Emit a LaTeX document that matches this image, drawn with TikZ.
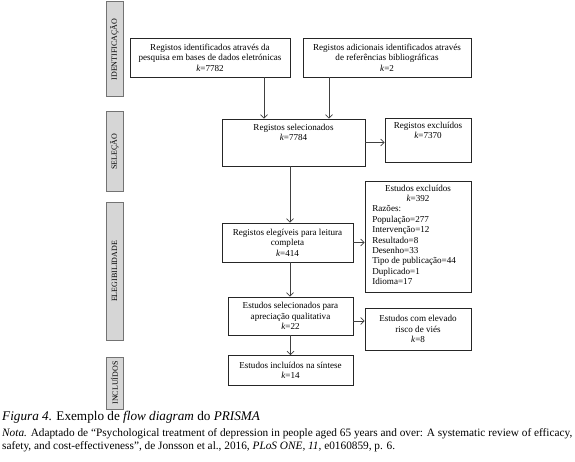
\documentclass[tikz,border=0pt]{standalone}
\usepackage{fontspec}
\setmainfont{Liberation Serif}
\usetikzlibrary{arrows.meta,positioning}
\begin{document}
\begin{tikzpicture}[x=1pt,y=-1pt,
  box/.style={draw=black!85,line width=0.8pt,rectangle,inner sep=2pt,align=center,font=\fontsize{9.1}{10.4}\selectfont},
  boxtext/.style={inner sep=0pt,align=center,font=\fontsize{9.1}{10.4}\selectfont},
  phase/.style={draw=black!55,fill=black!16,line width=1pt,rectangle,inner sep=0pt,minimum width=17pt},
  phasetext/.style={rotate=90,inner sep=0pt,font=\fontsize{8}{9}\selectfont},
  arr/.style={draw=black!75,line width=0.7pt,-{Straight Barb[length=3.5pt,width=7pt]}},
  lin/.style={draw=black!75,line width=0.7pt}]
\useasboundingbox (0,0) rectangle (575,462);
% phase bars
\node[phase,minimum height=95pt] (pid) at (114.5,49.5) {};
\node[phasetext] (tid) at (pid.center) {IDENTIFICAÇÃO};
\node[phase,minimum height=80pt] (psel) at (114.5,152) {};
\node[phasetext] (tsel) at (psel.center) {SELEÇÃO};
\node[phase,minimum height=137pt] (peleg) at (114.5,271.5) {};
\node[phasetext] (teleg) at (peleg.center) {ELEGIBILIDADE};
\node[phase,minimum height=52pt] (pinc) at (114.5,383) {};
\node[phasetext] (tinc) at (pinc.center) {INCLUÍDOS};
% boxes
\node[box,minimum width=160pt,minimum height=39pt] (b1) at (210,57.5) {Registos identificados através da\\pesquisa em bases de dados eletrónicas\\\textit{k}=7782};
\node[box,minimum width=168pt,minimum height=39pt] (b2) at (387,57.5) {Registos adicionais identificados através\\de referências bibliográficas\\\textit{k}=2};
\node[box,minimum width=143pt,minimum height=47pt] (sel) at (293.5,142.5) {};
\node[boxtext,anchor=north] (selt) at ([yshift=-5pt]sel.north) {Registos selecionados\\\textit{k}=7784};
\node[box,minimum width=86pt,minimum height=44pt] (ex1) at (428,140) {};
\node[boxtext,anchor=north] (ex1t) at ([yshift=-4pt]ex1.north) {Registos excluídos\\\textit{k}=7370};
\node[box,minimum width=131pt,minimum height=39pt] (eleg) at (287.5,242.5) {Registos elegíveis para leitura\\completa\\\textit{k}=414};
\node[box,minimum width=106pt,minimum height=111pt] (ex2) at (418,236.5) {};
\node[boxtext,anchor=north] (ex2t) at ([yshift=-4pt]ex2.north) {Estudos excluídos\\\textit{k}=392};
\node[boxtext,anchor=north west,align=left] (ex2l) at ([xshift=7.5pt,yshift=-25pt]ex2.north west) {Razões:\\População=277\\Intervenção=12\\Resultado=8\\Desenho=33\\Tipo de publicação=44\\Duplicado=1\\Idioma=17};
\node[box,minimum width=125pt,minimum height=38pt] (sel2) at (290.5,316) {Estudos selecionados para\\apreciação qualitativa\\\textit{k}=22};
\node[box,minimum width=106pt,minimum height=42pt] (ex3) at (418,329) {Estudos com elevado\\risco de viés\\\textit{k}=8};
\node[box,minimum width=125pt,minimum height=30pt] (inc) at (290.5,370.5) {Estudos incluídos na síntese\\\textit{k}=14};
% connectors
\draw[arr] ([xshift=54pt]b1.south) -- ([xshift=54pt]b1.south |- sel.north);
\draw[arr] ([xshift=-58pt]b2.south) -- ([xshift=-58pt]b2.south |- sel.north);
\draw[arr] (sel.east) -- (sel.east -| ex1.west);
\draw[arr] ([xshift=-3.5pt]sel.south) -- ([xshift=-3.5pt]sel.south |- eleg.north);
\draw[arr] (eleg.east) -- (eleg.east -| ex2.west);
\draw[arr] ([xshift=2.5pt]eleg.south) -- ([xshift=2.5pt]eleg.south |- sel2.north);
\draw[arr] ([yshift=-5pt]sel2.east) -- ([yshift=-5pt]sel2.east -| ex3.west);
\draw[arr] (sel2.south) -- (inc.north);
% caption
\node[anchor=base west,inner sep=0pt,font=\fontsize{13.2}{16}\selectfont] (cap) at (2,420) {\textit{Figura 4.} Exemplo de \textit{flow diagram} do \textit{PRISMA}};
\node[anchor=base west,inner sep=0pt,font=\fontsize{11.3}{13}\selectfont] (nota1) at (2,436) {\textit{Nota.} Adaptado de “Psychological treatment of depression in people aged 65 years and over: A systematic review of efficacy,};
\node[anchor=base west,inner sep=0pt,font=\fontsize{11.3}{13}\selectfont] (nota2) at (2,449) {safety, and cost-effectiveness”, de Jonsson et al., 2016, \textit{PLoS ONE, 11,} e0160859, p. 6.};
\end{tikzpicture}
\end{document}
